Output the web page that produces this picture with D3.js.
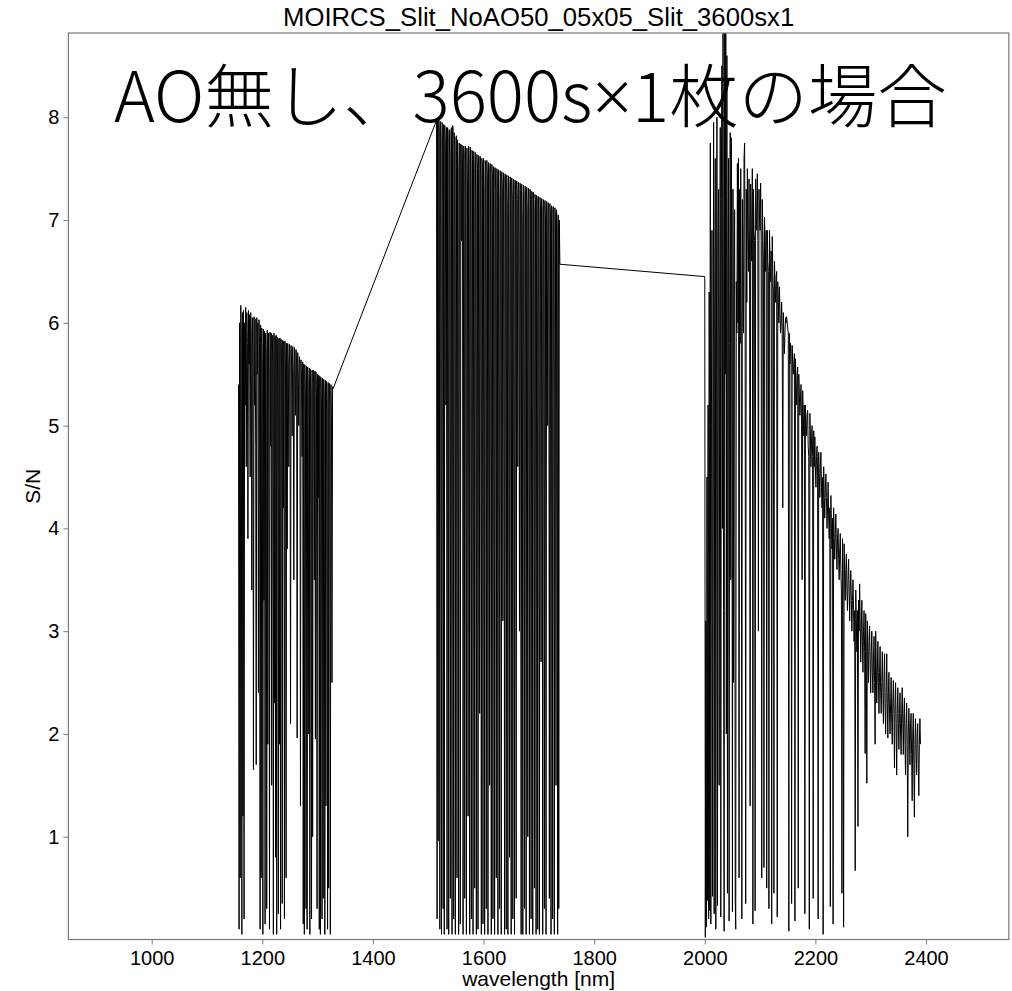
<!DOCTYPE html>
<html><head><meta charset="utf-8">
<script src="https://cdn.jsdelivr.net/npm/d3@7"></script>
<style>body{margin:0;background:#fff}svg{display:block}</style>
</head><body>
<svg id="chart" width="1012" height="991"></svg>
<script>
const chartTitle = "MOIRCS_Slit_NoAO50_05x05_Slit_3600sx1";
const annotationParts = ["AO無し、3600s", "×", "1枚の場合"];
const xLabel = "wavelength [nm]";
const yLabel = "S/N";
const xTicks = [1000,1200,1400,1600,1800,2000,2200,2400];
const yTicks = [1,2,3,4,5,6,7,8];

// Spectra sampled on a 1 nm grid: first wavelength of each band, then S/N per sample
const jStart = 1157;
const jSN = [
5.4,0.1,6.0,0.6,6.17,5.9,0.05,6.1,1.2,6.12,
0.2,6.0,5.2,6.15,4.6,6.1,5.8,3.9,6.12,5.6,
6.08,4.5,6.1,5.9,3.4,6.05,5.7,1.65,6.06,5.2,
6.04,4.8,1.7,6.05,5.5,6.0,2.4,6.03,5.8,0.1,
5.98,0.6,5.95,5.6,0.05,5.94,3.3,5.92,0.15,5.9,
5.7,0.3,5.93,1.9,5.9,5.5,0.1,5.91,4.8,5.9,
1.5,5.88,5.6,0.05,5.9,2.3,5.87,0.8,5.88,0.05,
5.86,5.4,0.25,5.85,1.9,5.85,0.1,5.84,5.6,0.35,
5.83,4.2,5.82,0.2,5.82,5.5,0.6,5.8,3.8,5.8,
5.6,4.6,5.79,5.7,2.1,5.78,5.6,4.9,5.77,5.5,
3.5,5.76,5.7,5.1,5.74,5.6,1.96,5.71,5.5,5.0,
5.67,5.6,1.3,5.64,5.4,4.7,5.62,0.15,5.6,0.05,
5.59,5.3,0.3,5.58,0.1,5.57,5.4,2.0,5.56,0.05,
5.55,5.3,0.2,5.54,1.0,5.54,5.4,3.5,5.53,1.95,
5.52,5.3,0.3,5.5,4.3,5.49,0.1,5.48,0.05,5.47,
5.2,0.2,5.46,0.4,5.45,5.3,0.05,5.44,1.3,5.43,
5.2,0.1,5.42,0.5,5.41,5.3,0.05,5.4,5.1,2.5,
5.38,5.36];

const hStart = 1515;
const hSN = [
7.97,0.2,7.99,0.96,7.98,7.9,0.1,7.96,7.8,0.05,
7.95,7.9,0.3,7.93,0.05,7.92,7.7,5.2,7.9,0.1,
7.9,7.8,0.05,7.88,7.6,0.4,7.86,7.9,0.05,7.92,
7.9,0.2,7.85,7.7,0.05,7.8,7.82,0.6,7.78,7.5,
0.05,7.75,7.7,0.15,7.74,6.8,7.73,7.6,0.05,7.72,
7.65,0.4,7.72,7.5,0.05,7.7,7.3,1.2,7.72,7.6,
0.05,7.71,7.4,0.2,7.68,7.65,0.05,7.67,7.5,0.5,
7.66,7.2,0.05,7.64,7.5,0.1,7.63,7.6,2.2,7.62,
7.4,0.05,7.6,7.55,0.15,7.6,7.3,0.05,7.58,7.5,
0.3,7.58,7.4,0.05,7.56,7.5,1.5,7.55,6.9,0.05,
7.54,7.45,0.2,7.52,7.5,0.05,7.51,7.3,0.6,7.5,
7.45,0.05,7.49,7.2,0.3,7.48,7.4,0.05,7.47,7.3,
3.1,7.46,7.4,0.05,7.45,7.3,0.1,7.44,7.1,0.05,
7.43,7.35,0.8,7.42,7.4,0.05,7.41,7.2,0.2,7.4,
7.35,0.05,7.39,7.3,0.4,7.38,7.2,4.6,7.37,7.3,
3.0,7.36,7.3,0.05,7.35,7.0,0.05,7.34,7.25,0.3,
7.33,7.3,0.05,7.32,7.1,1.0,7.31,7.25,0.05,7.3,
7.2,0.2,7.28,7.27,0.05,7.27,7.1,0.5,7.25,7.2,
0.05,7.24,7.2,0.1,7.23,7.1,0.05,7.22,7.15,2.7,
7.21,7.1,0.05,7.2,7.15,0.3,7.19,7.0,0.05,7.18,
7.1,5.0,7.17,7.1,0.4,7.16,7.05,0.05,7.14,7.1,
0.2,7.13,7.0,0.05,7.12,7.05,1.5,7.1,6.9,0.05,
7.05,0.3,7.0,6.57];

const kStart = 2000;
const kSN = [
6.45,0.02,3.1,0.12,4.5,0.38,5.2,0.2,6.3,0.28,
7.75,0.15,5.0,6.9,0.42,4.5,7.95,0.25,6.2,7.6,
0.1,5.5,8.0,0.33,6.8,7.3,1.5,6.0,7.9,0.22,
7.2,8.5,4.0,9.3,3.2,0.08,8.9,5.5,9.5,2.0,
8.6,0.45,6.5,7.6,0.18,5.8,7.85,3.5,7.8,6.0,
0.27,7.3,2.5,6.4,7.1,0.4,0.1,6.4,5.9,7.55,
6.0,7.6,0.6,7.3,5.8,7.5,6.0,0.2,7.2,6.5,
5.9,7.6,7.75,6.0,0.35,7.3,6.2,7.5,6.8,6.5,
7.4,6.6,1.3,7.35,6.9,6.6,7.5,0.15,7.3,6.9,
6.8,0.28,7.4,7.0,6.9,7.45,6.8,3.0,7.3,7.0,
6.9,7.36,6.8,0.6,7.2,6.9,6.6,0.7,7.03,6.8,
6.5,6.9,0.5,6.9,6.6,6.5,0.3,6.9,6.6,6.4,
6.7,0.15,6.84,6.5,6.3,0.45,6.6,6.4,6.2,6.45,
6.5,0.22,6.4,6.2,6.0,6.35,6.1,5.9,6.0,6.2,
5.9,4.2,6.1,5.9,5.7,5.9,6.05,6.0,6.06,6.0,
5.95,5.9,0.08,5.9,5.6,5.8,5.7,0.35,5.78,5.6,
5.5,5.6,5.7,0.18,5.65,5.4,5.2,5.5,5.57,0.5,
5.5,5.3,5.1,5.25,5.4,5.0,3.5,5.34,5.1,4.9,
5.2,0.25,5.2,5.0,4.9,5.1,5.15,4.8,4.7,0.1,
5.12,4.9,4.6,4.85,5.0,4.7,0.4,4.95,4.6,4.89,
4.6,4.4,4.7,4.8,4.5,0.2,4.74,4.5,4.3,4.6,
4.74,4.4,4.2,4.5,0.05,4.6,4.3,4.1,4.4,4.53,
4.3,4.0,4.2,4.45,4.1,3.9,4.2,0.32,4.32,4.0,
3.8,4.1,0.15,4.2,3.9,3.7,3.95,4.14,3.8,3.6,
3.9,4.0,3.7,3.5,3.8,3.95,3.6,3.4,0.45,3.9,
3.6,0.12,3.85,3.5,3.3,3.6,3.75,3.4,3.2,3.5,
3.7,3.4,3.1,3.4,3.59,3.3,3.0,3.3,3.5,3.2,
2.9,3.2,0.67,3.4,3.1,2.8,3.2,1.1,3.3,3.0,
3.46,3.1,2.7,3.0,3.3,2.9,2.6,3.0,3.2,2.8,
1.81,3.17,2.8,1.52,3.1,2.8,2.5,2.9,3.05,2.7,
2.4,2.8,3.0,2.6,2.4,2.7,2.95,2.5,1.9,3.0,
2.7,2.3,2.6,2.9,2.5,2.2,2.6,2.85,2.4,2.2,
2.5,2.8,2.4,2.1,2.5,2.78,2.3,2.0,2.4,2.78,
2.3,1.96,2.4,2.6,2.2,2.0,2.3,2.55,2.1,1.9,
2.3,2.52,2.2,1.67,2.3,2.5,2.1,1.6,2.2,2.45,
2.1,1.85,2.2,2.4,2.0,1.8,2.2,2.45,2.1,1.8,
2.2,2.35,1.9,1.6,2.1,2.3,1.9,1.0,2.0,2.25,
2.0,1.7,2.1,2.2,1.8,1.35,2.0,2.2,1.7,1.19,
1.9,2.15,1.8,1.6,2.0,2.1,1.7,1.4,1.9,2.15,
1.9];

const spectrum = [].concat(
  jSN.map((v,i)=>[jStart+i, v]),
  hSN.map((v,i)=>[hStart+i, v]),
  kSN.map((v,i)=>[kStart+i, v]));

const svg = d3.select("#chart");
const L = 68.4, R = 1008.8, T = 33, B = 939.5;
const x = d3.scaleLinear().domain([849.4, 2549.7]).range([L, R]);
const y = d3.scaleLinear().domain([0, 8.82]).range([B, T]);
const axisColor = "#7a7a7a";
const sans = "'Liberation Sans', Arial, sans-serif";

svg.append("defs").append("clipPath").attr("id","clip")
  .append("rect").attr("x",L).attr("y",T).attr("width",R-L).attr("height",B-T);

const line = d3.line().x(d=>x(d[0])).y(d=>y(d[1]));
svg.append("path").datum(spectrum)
  .attr("clip-path","url(#clip)")
  .attr("d", line).attr("fill","none").attr("stroke","#000")
  .attr("stroke-width",1.0).attr("stroke-linejoin","miter").attr("stroke-miterlimit",2);

// axes
const gx = svg.append("g").attr("transform",`translate(0,${B})`)
  .call(d3.axisBottom(x).tickValues(xTicks).tickSize(5).tickPadding(6).tickFormat(d3.format("d")));
const gy = svg.append("g").attr("transform",`translate(${L},0)`)
  .call(d3.axisLeft(y).tickValues(yTicks).tickSize(5).tickPadding(4).tickFormat(d3.format("d")));
[gx,gy].forEach(g=>{
  g.select(".domain").remove();
  g.selectAll(".tick line").attr("stroke",axisColor).attr("stroke-width",1);
  g.selectAll(".tick text").attr("fill","#000").style("font-family",sans).style("font-size","20px");
});

svg.append("rect").attr("x",L).attr("y",T).attr("width",R-L).attr("height",B-T)
  .attr("fill","none").attr("stroke",axisColor).attr("stroke-width",1.2);

svg.append("text").attr("x",(L+R)/2).attr("y",26).attr("text-anchor","middle")
  .style("font-family",sans).style("font-size","25.7px").text(chartTitle);
svg.append("text").attr("x",(L+R)/2).attr("y",986).attr("text-anchor","middle")
  .style("font-family",sans).style("font-size","21px").text(xLabel);
svg.append("text").attr("transform",`translate(40,${(T+B)/2}) rotate(-90)`).attr("text-anchor","middle")
  .style("font-family",sans).style("font-size","21px").text(yLabel);

// big annotation, sized to span the same width as in the reference
const ann = svg.append("text").attr("x",114).attr("y",122).attr("fill","#000")
  .style("font-family","'Noto Sans CJK JP', sans-serif").style("font-weight",300);
ann.append("tspan").text(annotationParts[0]);
ann.append("tspan").style("font-family","'Noto Sans', 'DejaVu Sans', sans-serif").style("font-weight",300).text(annotationParts[1]);
ann.append("tspan").text(annotationParts[2]);
let fs = 66;
ann.style("font-size", fs+"px");
const w = ann.node().getComputedTextLength();
fs = fs * 833 / w;
ann.style("font-size", fs+"px");
</script>
</body></html>
